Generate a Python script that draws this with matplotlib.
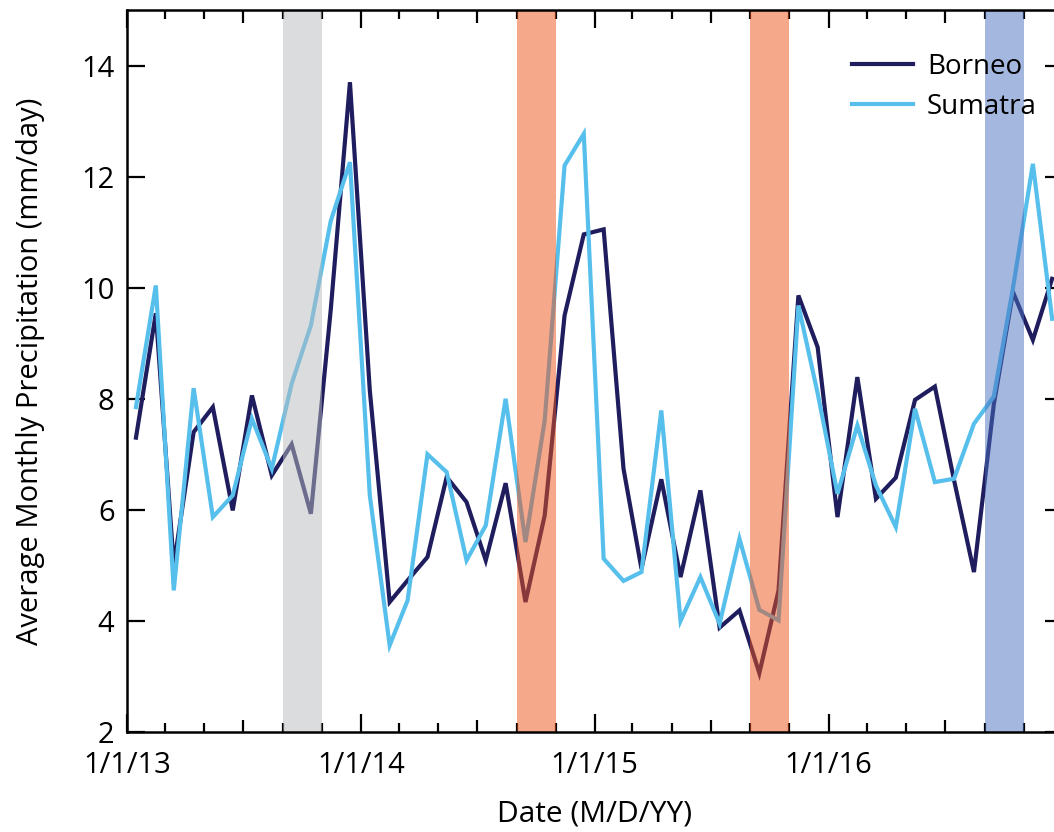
import matplotlib
matplotlib.use("Agg")
import matplotlib.pyplot as plt
import matplotlib.dates as mdates
import numpy as np
import datetime as dt

# Monthly mean precipitation (mm/day), Jan 2013 - Dec 2016
months = [dt.date(2013 + i // 12, i % 12 + 1, 15) for i in range(48)]

borneo = [7.30, 9.54, 5.00, 7.40, 7.85, 5.99, 8.06, 6.62, 7.18, 5.93, 9.60, 13.70,
          8.15, 4.34, 4.73, 5.15, 6.59, 6.14, 5.09, 6.48, 4.34, 5.90, 9.50, 10.96,
          11.05, 6.74, 4.94, 6.55, 4.79, 6.35, 3.88, 4.19, 3.06, 4.55, 9.86, 8.93,
          5.87, 8.39, 6.20, 6.58, 7.98, 8.22, 6.53, 4.88, 7.90, 9.92, 9.06, 10.16]

sumatra = [7.85, 10.04, 4.55, 8.19, 5.87, 6.26, 7.64, 6.74, 8.27, 9.32, 11.20, 12.26,
           6.26, 3.56, 4.37, 7.00, 6.68, 5.09, 5.72, 8.00, 5.42, 7.61, 12.20, 12.77,
           5.12, 4.72, 4.88, 7.79, 4.00, 4.79, 3.95, 5.48, 4.20, 4.01, 9.68, 8.10,
           6.29, 7.52, 6.44, 5.69, 7.82, 6.50, 6.56, 7.55, 8.04, 10.00, 12.23, 9.44]

# Highlighted periods (start, end, colour seen over white)
span_starts = [dt.date(2013, 9, 1), dt.date(2014, 9, 1), dt.date(2015, 9, 1), dt.date(2016, 9, 1)]
span_ends = [dt.date(2013, 11, 1), dt.date(2014, 11, 1), dt.date(2015, 11, 1), dt.date(2016, 11, 1)]
span_colors = ["#dcddde", "#f7a98c", "#f7a98c", "#a5b8e0"]

series_names = ["Borneo", "Sumatra"]
series_colors = ["#1f1d5e", "#56bfec"]

year_ticks = [dt.date(y, 1, 1) for y in range(2013, 2017)]
year_labels = ["1/1/13", "1/1/14", "1/1/15", "1/1/16"]
y_ticks = [2, 4, 6, 8, 10, 12, 14]

FONT = "Open Sans"
plt.rcParams["font.family"] = [FONT, "DejaVu Sans"]

W, H = 1054, 832
fig = plt.figure(figsize=(W / 100, H / 100), dpi=100)
left_px, right_px, top_px, bottom_px = 127, 1063, 10, 732
ax = fig.add_axes([left_px / W, (H - bottom_px) / H,
                   (right_px - left_px) / W, (bottom_px - top_px) / H])

x = mdates.date2num(months)
ax.plot(x, borneo, color=series_colors[0], lw=3.0, label=series_names[0],
        solid_joinstyle="miter", zorder=3)
ax.plot(x, sumatra, color=series_colors[1], lw=3.0, label=series_names[1],
        solid_joinstyle="miter", zorder=3)

# Translucent bands laid over the lines
alpha = 0.5
for s, e, c in zip(span_starts, span_ends, span_colors):
    rgb = np.array(matplotlib.colors.to_rgb(c))
    base = np.clip((rgb - (1 - alpha)) / alpha, 0, 1)
    ax.axvspan(mdates.date2num(s), mdates.date2num(e), color=base, alpha=alpha,
               lw=0, zorder=4)

ax.set_xlim(mdates.date2num(dt.date(2013, 1, 1)), mdates.date2num(dt.date(2017, 1, 1)))
ax.set_ylim(2, 15)

# Ticks: long at each new year, medium at July, short every other month
minor_dates = [dt.date(y, m, 1) for y in range(2013, 2017) for m in (3, 5, 7, 9, 11)]
ax.set_xticks(mdates.date2num(year_ticks + [dt.date(2017, 1, 1)]))
ax.set_xticklabels(year_labels + [""])
ax.set_xticks(mdates.date2num(minor_dates), minor=True)
ax.set_yticks(y_ticks)

ax.tick_params(axis="both", which="both", direction="in", top=True, right=True,
               width=1.6, colors="black")
ax.tick_params(axis="x", which="major", length=13, pad=14, labelsize=21)
ax.tick_params(axis="x", which="minor", length=6.5)
ax.tick_params(axis="y", which="major", length=13, pad=9, labelsize=21)

for d, tk in zip(minor_dates, ax.xaxis.get_minor_ticks()):
    if d.month == 7:
        tk.tick1line.set_markersize(9)
        tk.tick2line.set_markersize(9)

for sp in ax.spines.values():
    sp.set_linewidth(1.8)
    sp.set_zorder(5)

ax.set_xlabel("Date (M/D/YY)", fontsize=21.5, labelpad=14)
ax.set_ylabel("Average Monthly Precipitation (mm/day)", fontsize=21, labelpad=26)

leg = ax.legend(loc="upper left", bbox_to_anchor=(852 / W, (H - 53) / H),
                bbox_transform=fig.transFigure, frameon=False, fontsize=20,
                handlelength=2.2, handletextpad=0.5, labelspacing=0.42,
                borderpad=0, borderaxespad=0)
for lh in leg.get_lines():
    lh.set_linewidth(3.0)

fig.savefig("out.png", dpi=100)
